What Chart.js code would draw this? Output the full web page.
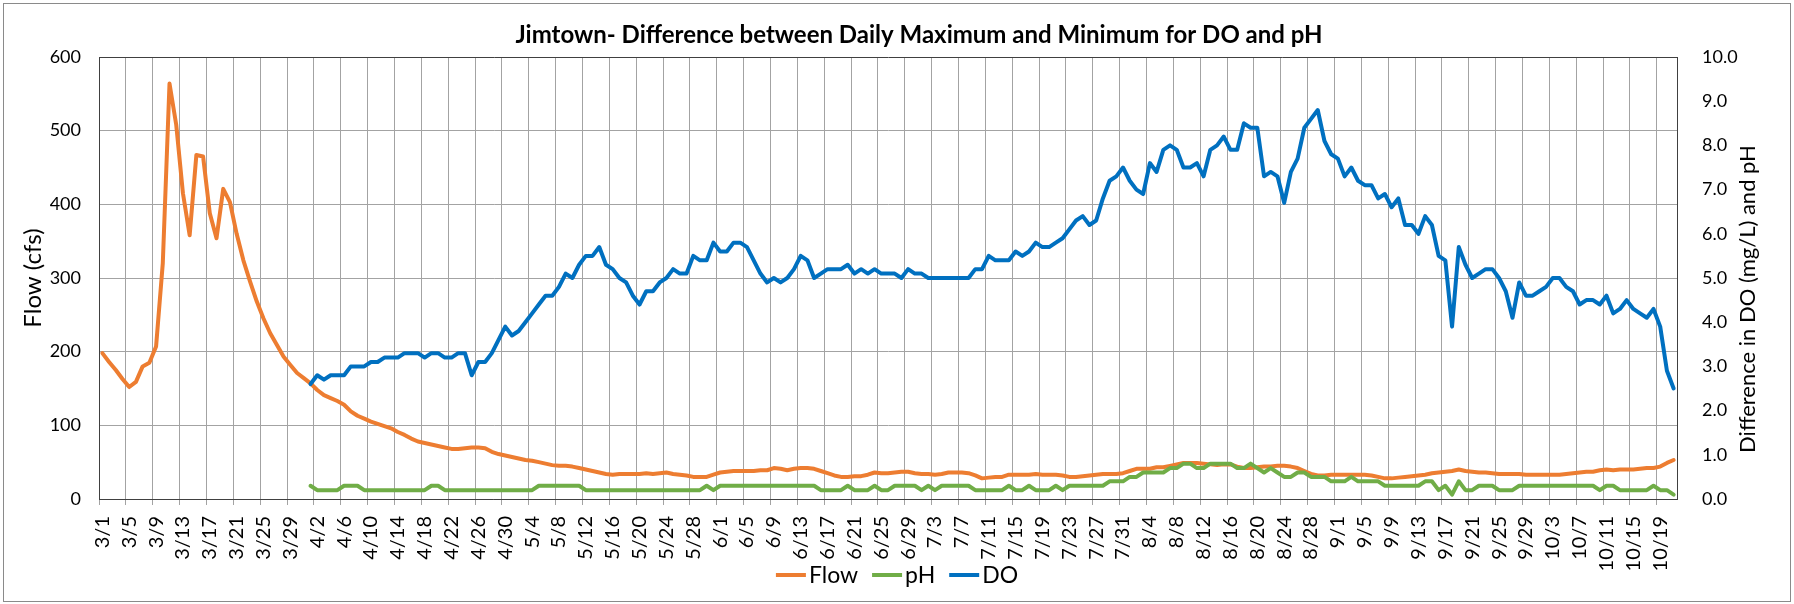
<!DOCTYPE html>
<html>
<head>
<meta charset="utf-8">
<title>Jimtown DO and pH</title>
<script src="https://cdn.jsdelivr.net/npm/chart.js@4.4.1/dist/chart.umd.min.js"></script>
<style>
  html, body { margin: 0; padding: 0; background: #fff; }
  #wrap { width: 1794px; height: 604px; }
</style>
</head>
<body>
<div id="wrap"><canvas id="chart" width="1794" height="604"></canvas></div>
<script>
// months covered by the record, [month, last day shown]
const months = [[3, 31], [4, 30], [5, 31], [6, 30], [7, 31], [8, 31], [9, 30], [10, 21]];

// daily flow (cfs), 3/1 - 10/21
const flow = [
  198, 186, 175, 163, 152, 159, 180, 185, 207, 320,
  564, 508, 415, 358, 467, 465, 388, 354, 421, 403,
  360, 324, 295, 268, 245, 225, 209, 193, 182, 171,
  164, 157, 148, 141, 137, 133, 128, 119, 113, 109,
  105, 102, 99, 96, 91, 87, 82, 78, 76, 74,
  72, 70, 68, 68, 69, 70, 70, 69, 64, 61,
  59, 57, 55, 53, 52, 50, 48, 46, 45, 45,
  44, 42, 40, 38, 36, 34, 33, 34, 34, 34,
  34, 35, 34, 35, 36, 34, 33, 32, 30, 30,
  30, 33, 36, 37, 38, 38, 38, 38, 39, 39,
  42, 41, 39, 41, 42, 42, 41, 38, 35, 32,
  30, 30, 31, 31, 33, 36, 35, 35, 36, 37,
  37, 35, 34, 34, 33, 34, 36, 36, 36, 35,
  32, 28, 29, 30, 30, 33, 33, 33, 33, 34,
  33, 33, 33, 32, 30, 30, 31, 32, 33, 34,
  34, 34, 35, 38, 41, 41, 41, 43, 43, 45,
  47, 49, 49, 49, 48, 47, 46, 47, 47, 44,
  42, 42, 43, 44, 44, 45, 45, 44, 42, 38,
  34, 32, 32, 33, 33, 33, 33, 33, 33, 32,
  30, 28, 28, 29, 30, 31, 32, 33, 35, 36,
  37, 38, 40, 38, 37, 36, 36, 35, 34, 34,
  34, 34, 33, 33, 33, 33, 33, 33, 34, 35,
  36, 37, 37, 39, 40, 39, 40, 40, 40, 41,
  42, 42, 44, 49, 53
];

// sonde record starts 4/1 (day index 31)
const sondeStart = 31;

// daily max - min DO (mg/L), 4/1 - 10/21
const doRange = [
  2.6, 2.8, 2.7, 2.8, 2.8, 2.8, 3.0, 3.0, 3.0,
  3.1, 3.1, 3.2, 3.2, 3.2, 3.3, 3.3, 3.3, 3.2, 3.3,
  3.3, 3.2, 3.2, 3.3, 3.3, 2.8, 3.1, 3.1, 3.3, 3.6,
  3.9, 3.7, 3.8, 4.0, 4.2, 4.4, 4.6, 4.6, 4.8, 5.1,
  5.0, 5.3, 5.5, 5.5, 5.7, 5.3, 5.2, 5.0, 4.9, 4.6,
  4.4, 4.7, 4.7, 4.9, 5.0, 5.2, 5.1, 5.1, 5.5, 5.4,
  5.4, 5.8, 5.6, 5.6, 5.8, 5.8, 5.7, 5.4, 5.1, 4.9,
  5.0, 4.9, 5.0, 5.2, 5.5, 5.4, 5.0, 5.1, 5.2, 5.2,
  5.2, 5.3, 5.1, 5.2, 5.1, 5.2, 5.1, 5.1, 5.1, 5.0,
  5.2, 5.1, 5.1, 5.0, 5.0, 5.0, 5.0, 5.0, 5.0, 5.0,
  5.2, 5.2, 5.5, 5.4, 5.4, 5.4, 5.6, 5.5, 5.6, 5.8,
  5.7, 5.7, 5.8, 5.9, 6.1, 6.3, 6.4, 6.2, 6.3, 6.8,
  7.2, 7.3, 7.5, 7.2, 7.0, 6.9, 7.6, 7.4, 7.9, 8.0,
  7.9, 7.5, 7.5, 7.6, 7.3, 7.9, 8.0, 8.2, 7.9, 7.9,
  8.5, 8.4, 8.4, 7.3, 7.4, 7.3, 6.7, 7.4, 7.7, 8.4,
  8.6, 8.8, 8.1, 7.8, 7.7, 7.3, 7.5, 7.2, 7.1, 7.1,
  6.8, 6.9, 6.6, 6.8, 6.2, 6.2, 6.0, 6.4, 6.2, 5.5,
  5.4, 3.9, 5.7, 5.3, 5.0, 5.1, 5.2, 5.2, 5.0, 4.7,
  4.1, 4.9, 4.6, 4.6, 4.7, 4.8, 5.0, 5.0, 4.8, 4.7,
  4.4, 4.5, 4.5, 4.4, 4.6, 4.2, 4.3, 4.5, 4.3, 4.2,
  4.1, 4.3, 3.9, 2.9, 2.5
];

// daily max - min pH, 4/1 - 10/21
const phRange = [
  0.3, 0.2, 0.2, 0.2, 0.2, 0.3, 0.3, 0.3, 0.2,
  0.2, 0.2, 0.2, 0.2, 0.2, 0.2, 0.2, 0.2, 0.2, 0.3,
  0.3, 0.2, 0.2, 0.2, 0.2, 0.2, 0.2, 0.2, 0.2, 0.2,
  0.2, 0.2, 0.2, 0.2, 0.2, 0.3, 0.3, 0.3, 0.3, 0.3,
  0.3, 0.3, 0.2, 0.2, 0.2, 0.2, 0.2, 0.2, 0.2, 0.2,
  0.2, 0.2, 0.2, 0.2, 0.2, 0.2, 0.2, 0.2, 0.2, 0.2,
  0.3, 0.2, 0.3, 0.3, 0.3, 0.3, 0.3, 0.3, 0.3, 0.3,
  0.3, 0.3, 0.3, 0.3, 0.3, 0.3, 0.3, 0.2, 0.2, 0.2,
  0.2, 0.3, 0.2, 0.2, 0.2, 0.3, 0.2, 0.2, 0.3, 0.3,
  0.3, 0.3, 0.2, 0.3, 0.2, 0.3, 0.3, 0.3, 0.3, 0.3,
  0.2, 0.2, 0.2, 0.2, 0.2, 0.3, 0.2, 0.2, 0.3, 0.2,
  0.2, 0.2, 0.3, 0.2, 0.3, 0.3, 0.3, 0.3, 0.3, 0.3,
  0.4, 0.4, 0.4, 0.5, 0.5, 0.6, 0.6, 0.6, 0.6, 0.7,
  0.7, 0.8, 0.8, 0.7, 0.7, 0.8, 0.8, 0.8, 0.8, 0.7,
  0.7, 0.8, 0.7, 0.6, 0.7, 0.6, 0.5, 0.5, 0.6, 0.6,
  0.5, 0.5, 0.5, 0.4, 0.4, 0.4, 0.5, 0.4, 0.4, 0.4,
  0.4, 0.3, 0.3, 0.3, 0.3, 0.3, 0.3, 0.4, 0.4, 0.2,
  0.3, 0.1, 0.4, 0.2, 0.2, 0.3, 0.3, 0.3, 0.2, 0.2,
  0.2, 0.3, 0.3, 0.3, 0.3, 0.3, 0.3, 0.3, 0.3, 0.3,
  0.3, 0.3, 0.3, 0.2, 0.3, 0.3, 0.2, 0.2, 0.2, 0.2,
  0.2, 0.3, 0.2, 0.2, 0.1
];

const flowTicks = [0, 100, 200, 300, 400, 500, 600];
const rangeTicks = [0, 1, 2, 3, 4, 5, 6, 7, 8, 9, 10];
const labelEvery = 4; // one date label / gridline every 4 days

const chartTitle = 'Jimtown- Difference between Daily Maximum and Minimum for DO and pH';
const leftTitle = 'Flow (cfs)';
const rightTitle = 'Difference in DO (mg/L) and pH';

const COLORS = {
  flow: '#ED7D31',
  ph: '#70AD47',
  do: '#0070C0',
  grid: '#A3A3A3',
  frame: '#404040',
  text: '#000000'
};

const FONT = 'Lato, "Noto Sans", sans-serif';
const LINE_W = 4;

// build the date categories
const dates = [];
months.forEach(([m, last]) => {
  for (let d = 1; d <= last; d++) dates.push(m + '/' + d);
});

const pad = (arr) => new Array(sondeStart).fill(null).concat(arr);

// background, outer border, title, right axis title and the legend row.
// The legend is drawn here because Excel tucks it right under the date labels,
// closer than Chart.js' own legend box allows.
const chartDecor = {
  id: 'chartDecor',
  beforeDraw(chart) {
    const { ctx, width, height } = chart;
    ctx.save();
    ctx.fillStyle = '#fff';
    ctx.fillRect(0, 0, width, height);
    ctx.restore();
  },
  afterDraw(chart) {
    const { ctx } = chart;
    ctx.save();
    ctx.strokeStyle = '#8a8a8a';
    ctx.lineWidth = 1;
    ctx.strokeRect(3.5, 3.5, 1787, 598);

    ctx.fillStyle = COLORS.text;
    ctx.textAlign = 'center';
    ctx.textBaseline = 'middle';
    ctx.font = 'bold 24px ' + FONT;
    ctx.fillText(chartTitle, 919, 35);

    // legend: 30px line, small gap, label; centred on the chart
    ctx.font = '23px ' + FONT;
    ctx.textAlign = 'left';
    const lineLen = 30, textGap = 3, itemGap = 14, legendY = 575;
    const items = chart.data.datasets.map((d) => ({
      text: d.label,
      color: d.borderColor,
      w: ctx.measureText(d.label).width
    }));
    const total = items.reduce((s, it) => s + lineLen + textGap + it.w, 0) + itemGap * (items.length - 1);
    let x = 897 - total / 2;
    items.forEach((it) => {
      ctx.strokeStyle = it.color;
      ctx.lineWidth = LINE_W;
      ctx.beginPath();
      ctx.moveTo(x, legendY);
      ctx.lineTo(x + lineLen, legendY);
      ctx.stroke();
      x += lineLen + textGap;
      ctx.fillText(it.text, x, legendY + 1);
      x += it.w + itemGap;
    });

    // Excel writes the right axis title bottom-to-top as well
    ctx.textAlign = 'center';
    ctx.translate(1748, 299);
    ctx.rotate(-Math.PI / 2);
    ctx.font = '22px ' + FONT;
    ctx.fillText(rightTitle, 0, 0);
    ctx.restore();
  }
};

const ctx = document.getElementById('chart').getContext('2d');
const chart = new Chart(ctx, {
  type: 'line',
  data: {
    labels: dates,
    datasets: [
      {
        label: 'Flow',
        data: flow,
        yAxisID: 'y',
        borderColor: COLORS.flow,
        backgroundColor: COLORS.flow,
        borderWidth: LINE_W,
        order: 3
      },
      {
        label: 'pH',
        data: pad(phRange),
        yAxisID: 'y1',
        borderColor: COLORS.ph,
        backgroundColor: COLORS.ph,
        borderWidth: LINE_W,
        order: 2
      },
      {
        label: 'DO',
        data: pad(doRange),
        yAxisID: 'y1',
        borderColor: COLORS.do,
        backgroundColor: COLORS.do,
        borderWidth: LINE_W,
        order: 1
      }
    ]
  },
  options: {
    responsive: false,
    animation: false,
    devicePixelRatio: 1,
    layout: {
      padding: { top: 57, left: 10, right: 10, bottom: 33 }
    },
    elements: {
      line: {
        tension: 0,
        borderJoinStyle: 'round',
        borderCapStyle: 'round'
      },
      point: { radius: 0, hoverRadius: 0 }
    },
    plugins: {
      title: { display: false },
      tooltip: { enabled: false },
      legend: { display: false }
    },
    scales: {
      x: {
        type: 'category',
        offset: true,
        grid: {
          offset: true,
          color: (c) => (c.index % labelEvery === 0 ? COLORS.grid : 'rgba(0,0,0,0)'),
          lineWidth: 1,
          tickLength: 6
        },
        border: { color: COLORS.frame, width: 1 },
        ticks: {
          autoSkip: false,
          minRotation: 90,
          maxRotation: 90,
          padding: 11,
          color: COLORS.text,
          font: { family: FONT, size: 20 },
          callback: (v, i) => (i % labelEvery === 0 ? dates[i] : '')
        },
        afterFit: (s) => { s.height = 72; }
      },
      y: {
        position: 'left',
        min: flowTicks[0],
        max: flowTicks[flowTicks.length - 1],
        afterBuildTicks: (s) => { s.ticks = flowTicks.map((v) => ({ value: v })); },
        grid: {
          color: (c) => (c.tick && c.tick.value === 600 ? COLORS.frame : COLORS.grid),
          drawTicks: false
        },
        border: { color: COLORS.frame, width: 1 },
        ticks: {
          padding: 18,
          color: COLORS.text,
          font: { family: FONT, size: 18 }
        },
        title: {
          display: true,
          text: leftTitle,
          color: COLORS.text,
          font: { family: FONT, size: 24 },
          padding: { top: 9, bottom: 0 }
        },
        afterFit: (s) => { s.width = 89; }
      },
      y1: {
        position: 'right',
        min: rangeTicks[0],
        max: rangeTicks[rangeTicks.length - 1],
        afterBuildTicks: (s) => { s.ticks = rangeTicks.map((v) => ({ value: v })); },
        grid: { drawOnChartArea: false, drawTicks: false },
        border: { color: COLORS.frame, width: 1 },
        ticks: {
          padding: 25,
          color: COLORS.text,
          font: { family: FONT, size: 18 },
          callback: (v) => v.toFixed(1)
        },
        afterFit: (s) => { s.width = 107; }
      }
    }
  },
  plugins: [chartDecor]
});
</script>
</body>
</html>
